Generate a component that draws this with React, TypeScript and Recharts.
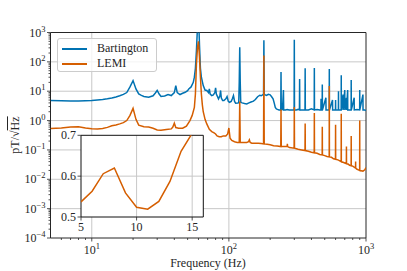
import React from 'react';
import { LineChart, Line, XAxis, YAxis, CartesianGrid, ReferenceArea } from 'recharts';

const FONT = '"Liberation Serif", "Times New Roman", Times, "DejaVu Serif", serif';
const BLUE = '#0072B2';
const ORANGE = '#D55E00';
const INK = '#262626';

// Bartington spectrum (Hz, pT/sqrt(Hz))
const bartFreq = [5, 6, 7, 8, 9, 10, 11, 12, 13, 14, 15, 16, 17, 18, 19, 20, 21, 22, 23, 24, 26, 28, 29, 30, 31, 32, 34, 36, 38, 40, 41, 42, 44, 46, 48, 50, 51, 53, 55, 56, 57, 58, 59, 60, 61, 62, 63, 65, 67, 69, 71, 72, 73, 75, 77, 79, 80, 81, 84, 86, 87, 88, 90, 92, 95, 97, 99, 101, 104, 106, 108, 110, 112, 116, 118, 119, 120, 121, 122, 125, 130, 135, 140, 145, 151, 156, 162, 168, 172, 176, 179, 180, 181, 184, 188, 194, 200, 205, 210, 214, 218, 222, 226, 232, 239, 240, 241, 246, 250, 251, 258, 266, 275, 285, 299, 300, 301, 310, 320, 327, 328, 329, 340, 359, 360, 361, 380, 400, 419, 420, 421, 440, 460, 469, 470, 471, 479, 480, 481, 510, 511, 539, 540, 541, 570, 571, 599, 600, 601, 629, 630, 631, 659, 660, 661, 680, 681, 700, 701, 720, 721, 735, 736, 760, 779, 780, 781, 820, 821, 860, 899, 900, 901, 950, 951, 980, 1000];
const bartVal = [4.8, 4.7, 4.6, 4.6, 4.7, 4.8, 5.0, 5.2, 5.5, 5.9, 6.4, 7.0, 7.8, 9.0, 14, 23, 12, 8.1, 7.2, 6.6, 6.2, 7.0, 8.5, 10.6, 8, 6.6, 6.9, 7.7, 7.1, 9, 15.6, 9, 7.7, 8.5, 9.2, 10.5, 12, 14, 20, 30, 60, 250, 1500, 5000, 400, 60, 30, 15.6, 11, 10.6, 9, 12, 8, 7.1, 7.5, 9, 13, 8, 5.5, 7, 10.6, 6, 4.8, 4.8, 5.5, 6.6, 4.5, 4.2, 4.5, 5.5, 7.1, 4.5, 3.9, 4.0, 4.1, 20, 317, 20, 4.2, 4.0, 3.8, 3.7, 4.0, 4.3, 4.6, 5.2, 6.5, 7.3, 7.0, 7.5, 8, 540, 8, 7.5, 7.2, 7.8, 7.5, 6.5, 5.5, 4, 2.8, 2.5, 2.4, 2.3, 2.3, 45, 2.3, 2.4, 11, 2.3, 2.3, 2.4, 2.3, 2.3, 2.3, 565, 2.3, 2.3, 2.4, 2.3, 26, 2.3, 2.3, 2.3, 60, 2.3, 2.3, 2.5, 2.3, 62, 2.3, 2.4, 2.3, 2.3, 5.5, 2.3, 2.3, 17, 2.3, 6, 2.3, 2.3, 57, 2.3, 5, 2.3, 2.3, 5, 2.3, 2.3, 10, 2.3, 2.3, 35, 2.3, 7.7, 2.3, 11, 2.3, 6, 2.3, 11, 2.3, 2.3, 2.3, 24, 2.3, 6, 2.3, 2.4, 2.3, 11, 2.3, 7.7, 2.3, 2.3, 2.2];

// LEMI spectrum
const lemiFreq = [5, 6, 7, 8, 9, 10, 11, 12, 13, 14, 15, 16, 17, 18, 19, 20, 21, 22, 24, 26, 28, 30, 32, 35, 38, 39, 40, 41, 43, 46, 49, 52, 54, 56, 57, 58, 59, 60, 61, 62, 63, 64, 65, 67, 69, 72, 75, 78, 80, 82, 85, 88, 91, 95, 98, 100, 102, 105, 110, 115, 119, 120, 121, 128, 135, 139, 141, 143, 147, 155, 164, 172, 179, 180, 181, 190, 200, 212, 225, 239, 240, 241, 255, 266, 267, 268, 277, 299, 300, 301, 320, 340, 359, 360, 361, 380, 400, 419, 420, 421, 440, 460, 479, 480, 481, 500, 520, 539, 540, 541, 560, 580, 599, 600, 601, 630, 659, 660, 661, 680, 700, 719, 720, 721, 740, 760, 779, 780, 781, 800, 839, 840, 841, 860, 880, 899, 900, 901, 920, 950, 980, 1000];
const lemiVal = [0.537, 0.563, 0.606, 0.62, 0.559, 0.524, 0.519, 0.538, 0.587, 0.661, 0.705, 0.77, 0.85, 1.0, 1.5, 2.6, 1.1, 0.7, 0.62, 0.6, 0.55, 0.48, 0.47, 0.5, 0.52, 0.6, 0.81, 0.58, 0.55, 0.55, 0.65, 1.0, 1.5, 2.8, 8, 86, 300, 500, 150, 30, 8, 3.5, 2.0, 1.1, 0.77, 0.5, 0.42, 0.38, 0.35, 0.3, 0.28, 0.28, 0.3, 0.3, 0.35, 0.56, 0.25, 0.21, 0.19, 0.18, 0.18, 4.5, 0.18, 0.18, 0.18, 0.19, 0.22, 0.18, 0.17, 0.17, 0.17, 0.165, 0.16, 166, 0.16, 0.155, 0.15, 0.14, 0.135, 0.13, 2.4, 0.13, 0.13, 0.13, 0.16, 0.13, 0.12, 0.115, 2.9, 0.115, 0.105, 0.1, 0.095, 0.8, 0.095, 0.09, 0.083, 0.08, 1.8, 0.08, 0.077, 0.07, 0.068, 0.62, 0.068, 0.064, 0.06, 0.058, 15, 0.058, 0.056, 0.05, 0.048, 0.72, 0.048, 0.045, 0.04, 1.7, 0.04, 0.038, 0.036, 0.034, 0.13, 0.034, 0.033, 0.03, 0.029, 0.3, 0.029, 0.028, 0.024, 0.04, 0.024, 0.022, 0.021, 0.02, 1.0, 0.02, 0.0196, 0.019, 0.021, 0.025];

// axes
const xMajor = [10, 100, 1000];
const xMinor = [6, 7, 8, 9, 20, 30, 40, 50, 60, 70, 80, 90, 200, 300, 400, 500, 600, 700, 800, 900];
const yMajor = [1e-4, 1e-3, 1e-2, 1e-1, 1, 10, 100, 1000];
const yMinorMult = [2, 3, 4, 5, 6, 7, 8, 9];
const yMinor = yMajor.slice(0, -1).flatMap((d) => yMinorMult.map((m) => m * d));

const insetXTicks = [5, 10, 15];
const insetYTicks = [0.5, 0.6, 0.7];

const seriesNames = ['Bartington', 'LEMI'];
const seriesColors = [BLUE, ORANGE];

const bartData = bartFreq.map((f, i) => ({ f, v: bartVal[i] }));
const lemiData = lemiFreq.map((f, i) => ({ f, v: lemiVal[i] }));
const insetData = lemiData.filter((d) => d.f <= 17);

const isMajor = (list: number[], v: number) => list.some((m) => Math.abs(m - v) / m < 1e-9);
const expText = (v: number) => {
  const e = Math.round(Math.log10(v));
  return e < 0 ? '\u2212' + Math.abs(e) : String(e);
};

const XLogTick = ({ x, y, payload }: any) => {
  const major = isMajor(xMajor, payload.value);
  return (
    <g>
      <line x1={x} x2={x} y1={y} y2={y + (major ? 3.5 : 2)} stroke={INK} strokeWidth={0.8} />
      {major && (
        <text x={x} y={y + 16} textAnchor="middle" fontFamily={FONT} fontSize={12} fill={INK}>
          10<tspan dy={-5} fontSize={8.5}>{expText(payload.value)}</tspan>
        </text>
      )}
    </g>
  );
};

const YLogTick = ({ x, y, payload }: any) => {
  const major = isMajor(yMajor, payload.value);
  return (
    <g>
      <line x1={x - (major ? 3.5 : 2)} x2={x} y1={y} y2={y} stroke={INK} strokeWidth={0.8} />
      {major && (
        <text x={x - 5} y={y + 4} textAnchor="end" fontFamily={FONT} fontSize={12} fill={INK}>
          10<tspan dy={-5} fontSize={8.5}>{expText(payload.value)}</tspan>
        </text>
      )}
    </g>
  );
};

const InsetXTick = ({ x, y, payload }: any) => (
  <g>
    <line x1={x} x2={x} y1={y} y2={y + 3.5} stroke={INK} strokeWidth={0.8} />
    <text x={x} y={y + 14} textAnchor="middle" fontFamily={FONT} fontSize={12} fill={INK}>
      {payload.value}
    </text>
  </g>
);

const InsetYTick = ({ x, y, payload }: any) => (
  <g>
    <line x1={x - 3.5} x2={x} y1={y} y2={y} stroke={INK} strokeWidth={0.8} />
    <text x={x - 5} y={y + 4} textAnchor="end" fontFamily={FONT} fontSize={12} fill={INK}>
      {payload.value.toFixed(1)}
    </text>
  </g>
);

const LegendBox = () => (
  <div
    style={{
      position: 'absolute',
      left: 57,
      top: 38,
      width: 100,
      height: 34,
      border: '1px solid #cccccc',
      borderRadius: 3,
      background: 'rgba(255,255,255,0.8)',
      boxSizing: 'border-box',
      fontFamily: FONT,
      fontSize: 12,
      color: INK,
    }}
  >
    {seriesNames.map((name, i) => (
      <div key={name}>
        <div style={{ position: 'absolute', left: 4, top: 9 + i * 15, width: 25, height: 1.5, background: seriesColors[i] }} />
        <div style={{ position: 'absolute', left: 39, top: 2 + i * 15, lineHeight: '15px', whiteSpace: 'nowrap' }}>{name}</div>
      </div>
    ))}
  </div>
);

export default function App() {
  return (
    <div style={{ position: 'absolute', left: 0, top: 0, width: 407, height: 271, background: '#fff' }}>
      <LineChart width={407} height={271} margin={{ top: 32.5, right: 41, bottom: 13, left: 10.5 }}>
        <CartesianGrid stroke="#c8c8c8" strokeWidth={1} horizontalValues={yMajor.slice(1, -1)} verticalValues={xMajor.slice(0, -1)} />
        <XAxis
          dataKey="f"
          type="number"
          scale="log"
          domain={[5, 1000]}
          allowDataOverflow
          ticks={[...xMajor, ...xMinor]}
          interval={0}
          tick={<XLogTick />}
          tickLine={false}
          tickSize={0}
          tickMargin={0}
          axisLine={false}
          height={20}
        />
        <YAxis
          type="number"
          scale="log"
          domain={[1e-4, 1e3]}
          allowDataOverflow
          ticks={[...yMajor, ...yMinor]}
          interval={0}
          tick={<YLogTick />}
          tickLine={false}
          tickSize={0}
          tickMargin={0}
          axisLine={false}
          width={40}
        />
        <Line data={bartData} dataKey="v" name="Bartington" stroke={BLUE} strokeWidth={1.5} dot={false} isAnimationActive={false} type="linear" />
        <Line data={lemiData} dataKey="v" name="LEMI" stroke={ORANGE} strokeWidth={1.5} dot={false} isAnimationActive={false} type="linear" />
        <ReferenceArea x1={5} x2={1000} y1={1e-4} y2={1e3} fill="none" stroke={INK} strokeWidth={1} ifOverflow="visible" />
      </LineChart>

      <LegendBox />

      <div style={{ position: 'absolute', left: 51, top: 127.7 }}>
        <LineChart width={160} height={109} margin={{ top: 7.3, right: 7.7, bottom: 0, left: 0 }}>
          <CartesianGrid stroke="#c8c8c8" strokeWidth={1} fill="#ffffff" fillOpacity={1} horizontalValues={[0.6]} verticalValues={[10, 15]} />
          <XAxis
            dataKey="f"
            type="number"
            domain={[5, 16]}
            allowDataOverflow
            ticks={insetXTicks}
            interval={0}
            tick={<InsetXTick />}
            tickLine={false}
            tickSize={0}
            tickMargin={0}
            axisLine={false}
            height={20}
          />
          <YAxis
            type="number"
            domain={[0.5, 0.7]}
            allowDataOverflow
            ticks={insetYTicks}
            interval={0}
            tick={<InsetYTick />}
            tickLine={false}
            tickSize={0}
            tickMargin={0}
            axisLine={false}
            width={30}
          />
          <Line data={insetData} dataKey="v" stroke={ORANGE} strokeWidth={1.5} dot={false} isAnimationActive={false} type="linear" />
          <ReferenceArea x1={5} x2={16} y1={0.5} y2={0.7} fill="none" stroke="#111" strokeWidth={1} ifOverflow="visible" />
        </LineChart>
      </div>

      <div
        style={{
          position: 'absolute',
          left: 15,
          top: 135,
          transform: 'translate(-50%, -50%) rotate(-90deg)',
          whiteSpace: 'nowrap',
          fontFamily: FONT,
          fontSize: 12,
          color: INK,
          lineHeight: '14px',
        }}
      >
        pT/√<span style={{ textDecoration: 'overline' }}>Hz</span>
      </div>
      <div
        style={{
          position: 'absolute',
          left: 208,
          top: 256,
          transform: 'translateX(-50%)',
          whiteSpace: 'nowrap',
          fontFamily: FONT,
          fontSize: 12,
          color: INK,
          lineHeight: '14px',
        }}
      >
        Frequency (Hz)
      </div>
    </div>
  );
}
